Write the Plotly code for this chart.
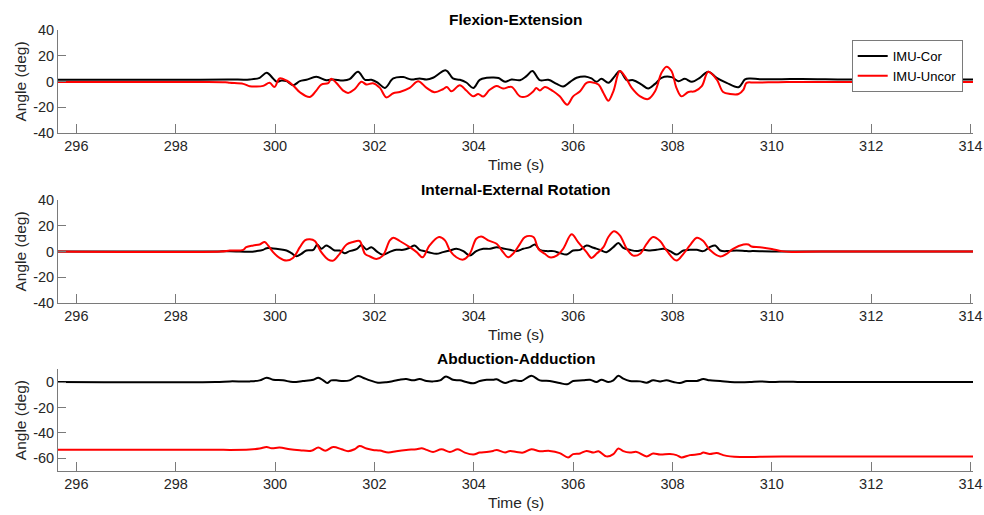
import plotly.graph_objects as go

# ---------------- data ----------------
# Panel 1: Flexion-Extension
fe_cor_t = [295.63, 297.0, 298.5, 299.09, 299.49, 299.69, 299.83, 299.96, 300.03, 300.13, 300.23, 300.36,
            300.50, 300.63, 300.83, 301.03, 301.17, 301.37, 301.50, 301.67, 301.81, 301.94, 302.07, 302.21,
            302.38, 302.58, 302.74, 302.91, 303.05, 303.18, 303.44, 303.58, 303.72, 303.85, 303.99, 304.12,
            304.26, 304.39, 304.50, 304.63, 304.76, 304.93, 305.06, 305.18, 305.33, 305.50, 305.67, 305.80,
            305.94, 306.07, 306.24, 306.37, 306.47, 306.57, 306.71, 306.84, 306.94, 307.08, 307.21, 307.38,
            307.51, 307.65, 307.78, 307.98, 308.12, 308.25, 308.39, 308.55, 308.72, 308.89, 309.09, 309.33,
            309.46, 309.56, 309.76, 310.2, 310.6, 311.5, 312.5, 314.06]
fe_cor_v = [1.3, 1.3, 1.3, 1.58, 1.58, 2.89, 6.84, 2.37, -0.26, 0.79, 0.26, -2.89,
            0.26, 1.32, 3.68, 1.05, 1.58, 0.79, 1.84, 7.63, 1.32, 1.32, -1.05, -5.0,
            2.37, 3.42, 1.58, 2.37, 1.58, 2.89, 8.68, 2.37, 1.32, -0.79, -5.0, 1.32,
            2.89, 3.2, 2.7, -0.26, 1.58, 1.05, 4.21, 8.15, 1.05, 1.32, -1.84, -3.95,
            -0.26, 2.89, 3.95, 2.37, -0.26, 2.10, -1.05, 4.21, 8.15, 1.05, 1.05, -2.37,
            -5.52, -1.84, 2.89, 3.42, 0.26, 2.10, -0.26, 2.89, 7.63, 2.89, -1.05, -4.47,
            1.58, 2.37, 1.84, 1.8, 2.0, 1.6, 1.5, 1.5]

fe_unc_t = [295.63, 298.5, 299.0, 299.09, 299.36, 299.49, 299.62, 299.76, 299.89, 299.99, 300.09, 300.23,
            300.36, 300.50, 300.70, 300.83, 300.93, 301.07, 301.13, 301.23, 301.37, 301.47, 301.60, 301.74,
            301.84, 301.97, 302.11, 302.24, 302.38, 302.51, 302.71, 302.88, 303.05, 303.21, 303.38, 303.46,
            303.55, 303.72, 303.85, 303.99, 304.09, 304.19, 304.32, 304.46, 304.59, 304.76, 304.93, 305.06,
            305.20, 305.26, 305.33, 305.43, 305.60, 305.73, 305.88, 306.00, 306.14, 306.27, 306.37, 306.51,
            306.61, 306.71, 306.81, 306.94, 307.04, 307.18, 307.35, 307.51, 307.65, 307.78, 307.88, 307.98,
            308.08, 308.18, 308.32, 308.45, 308.59, 308.72, 308.89, 309.02, 309.16, 309.33, 309.43, 309.49,
            309.63, 309.76, 310.3, 314.06]
fe_unc_v = [-0.3, -0.3, -0.6, -1.05, -1.84, -3.68, -3.95, -3.42, -1.05, -4.21, 2.37, 0.79,
            -2.89, -8.42, -12.1, -7.1, -2.37, -1.32, 2.10, -1.05, -7.1, -8.94, -6.05, -0.26,
            -2.37, -1.32, -5.0, -12.4, -9.2, -8.15, -5.0, 0.26, -5.0, -8.42, -6.05, -4.21,
            -7.63, -2.89, -7.1, -11.6, -9.7, -11.8, -6.5, -3.5, -5.52, -4.21, -11.6, -11.6,
            -7.63, -5.0, -7.1, -4.21, -7.63, -11.6, -18.1, -11.6, -7.63, -1.05, -0.53, -2.37,
            -8.94, -15.0, -7.63, 8.15, 4.21, -5.0, -11.6, -13.7, -7.63, 6.84, 11.6, 8.15,
            -5.0, -11.6, -8.15, -7.63, -3.68, 7.63, 1.58, -8.15, -9.73, -9.73, -6.3, -1.05,
            -0.79, -0.79, -0.3, -0.3]

# Panel 2: Internal-External Rotation
ie_cor_t = [295.63, 298.8, 299.09, 299.49, 299.62, 299.76, 299.83, 299.96, 300.09, 300.23, 300.33, 300.43,
            300.53, 300.63, 300.77, 300.85, 300.93, 301.03, 301.10, 301.20, 301.30, 301.40, 301.50, 301.64,
            301.74, 301.84, 301.94, 302.04, 302.17, 302.31, 302.44, 302.58, 302.71, 302.81, 302.91, 303.01,
            303.11, 303.25, 303.38, 303.52, 303.65, 303.79, 303.92, 304.05, 304.19, 304.33, 304.46, 304.59,
            304.73, 304.86, 304.995, 305.13, 305.23, 305.33, 305.47, 305.60, 305.73, 305.87, 306.00, 306.14,
            306.27, 306.41, 306.54, 306.67, 306.81, 306.91, 307.01, 307.14, 307.28, 307.41, 307.55, 307.68,
            307.82, 307.95, 308.08, 308.22, 308.35, 308.49, 308.62, 308.75, 308.86, 308.96, 309.09, 309.29,
            309.49, 309.63, 310.0, 314.06]
ie_cor_v = [0.0, 0.0, 0.26, -0.26, 0.26, 1.3, 2.6, 2.4, 1.8, 0.8, -1.3, -3.7,
            -1.8, 0.8, 1.3, 5.5, 2.1, 4.7, 3.4, 0.8, 0.8, -1.3, 0.3, 1.8,
            5.0, 1.6, 3.4, 0.3, -2.6, -0.3, 1.3, 1.3, 2.9, 4.7, 1.3, 0.3,
            -0.8, -1.8, -0.5, 0.8, 2.1, 0.3, -3.2, 0.3, 2.1, 2.1, 3.4, 2.4,
            1.3, 0.3, 2.1, 3.4, 5.5, 1.3, 0.3, 0.3, -1.1, -2.4, 0.8, 1.3,
            4.7, 2.9, 1.3, -0.5, 3.4, 6.6, 2.9, 1.3, 0.3, 1.3, 0.8, 1.3,
            2.1, 0.3, -2.4, 0.8, 1.3, 1.3, 0.3, 3.4, 4.7, 0.8, 0.3, 0.8,
            0.3, 0.3, 0.0, 0.0]

ie_unc_t = [295.63, 298.9, 299.09, 299.36, 299.42, 299.56, 299.69, 299.79, 299.86, 299.96, 300.09, 300.23,
            300.36, 300.50, 300.60, 300.70, 300.80, 300.93, 301.07, 301.17, 301.30, 301.44, 301.57, 301.70,
            301.81, 301.91, 302.04, 302.17, 302.31, 302.38, 302.51, 302.71, 302.85, 302.97, 303.11, 303.30,
            303.42, 303.52, 303.65, 303.79, 303.92, 304.05, 304.15, 304.29, 304.46, 304.59, 304.69, 304.79,
            304.93, 305.03, 305.20, 305.30, 305.43, 305.53, 305.67, 305.80, 305.97, 306.10, 306.27, 306.37,
            306.47, 306.61, 306.71, 306.82, 306.94, 307.08, 307.21, 307.35, 307.48, 307.61, 307.75, 307.88,
            308.08, 308.22, 308.35, 308.49, 308.62, 308.75, 308.96, 309.09, 309.22, 309.43, 309.53, 309.59,
            309.76, 310.0, 310.2, 310.4, 311.0, 314.06]
ie_unc_v = [0.0, 0.0, 0.8, 1.3, 3.4, 4.7, 5.5, 7.4, 4.7, -0.5, -5.0, -7.1,
            -5.0, 3.4, 8.7, 9.5, 8.2, -0.5, -6.3, -7.1, -1.8, 5.5, 7.4, 8.2,
            -1.8, -3.9, -5.8, -3.2, 8.7, 10.8, 8.2, 3.4, -0.5, -4.5, 4.7, 11.3,
            8.7, 0.8, -4.5, -6.3, -1.8, 10.0, 11.8, 8.7, 6.0, -0.5, -4.5, -1.8,
            6.0, 11.3, 11.3, 2.1, -1.8, -4.5, -3.2, 2.1, 13.4, 7.4, -0.5, -5.0,
            -1.8, 3.4, 11.3, 15.8, 12.6, 2.1, -3.2, -1.8, 6.0, 11.3, 8.2, 0.8,
            -7.1, -1.8, 4.7, 10.8, 8.2, 1.3, -3.9, -1.8, 2.1, 5.5, 5.5, 3.9,
            3.4, 2.0, 0.3, -0.3, 0.0, 0.0]

# Panel 3: Abduction-Adduction
aa_cor_t = [295.63, 298.8, 299.09, 299.49, 299.69, 299.83, 299.96, 300.16, 300.36, 300.56, 300.77, 300.87,
            300.97, 301.05, 301.13, 301.23, 301.37, 301.50, 301.67, 301.77, 301.91, 302.07, 302.24, 302.38,
            302.51, 302.64, 302.78, 302.91, 303.05, 303.18, 303.32, 303.44, 303.58, 303.72, 303.85, 303.99,
            304.12, 304.26, 304.39, 304.46, 304.63, 304.73, 304.83, 304.96, 305.16, 305.33, 305.53, 305.73,
            305.88, 306.00, 306.20, 306.34, 306.47, 306.57, 306.71, 306.81, 306.91, 307.01, 307.14, 307.35,
            307.48, 307.61, 307.75, 307.88, 308.02, 308.15, 308.29, 308.49, 308.62, 308.75, 308.96, 309.16,
            309.36, 309.56, 309.76, 310.0, 310.3, 310.6, 314.06]
aa_cor_v = [0.0, 0.0, 0.5, 0.5, 1.3, 3.4, 1.8, 1.3, 0.0, 0.8, 1.8, 3.4,
            1.3, -0.8, 1.3, 1.3, 0.8, 1.3, 4.7, 3.4, 1.3, -0.5, -0.2, 0.8,
            1.8, 2.3, 1.3, 2.3, 0.8, 0.5, 1.3, 4.4, 1.8, 1.3, 0.0, -1.0,
            0.8, 1.8, 1.8, 2.1, -0.8, 0.5, 1.3, 0.8, 4.9, 1.3, 0.8, -0.8,
            -1.8, 0.8, 1.3, 1.8, 0.0, 1.8, 0.0, 1.3, 4.9, 2.6, 0.8, 0.5,
            -0.5, 1.3, 0.5, 1.3, 0.0, -0.8, 0.8, 0.8, 2.3, 1.3, 0.8, 0.0,
            -0.2, 0.0, 0.5, 0.0, 0.3, 0.0, 0.0]

aa_unc_t = [295.63, 298.8, 299.09, 299.49, 299.69, 299.83, 299.93, 300.09, 300.30, 300.50, 300.73, 300.87,
            301.01, 301.17, 301.34, 301.47, 301.60, 301.70, 301.84, 301.97, 302.11, 302.28, 302.44, 302.64,
            302.85, 302.95, 303.05, 303.18, 303.35, 303.52, 303.68, 303.82, 303.99, 304.12, 304.26, 304.39,
            304.46, 304.63, 304.73, 304.86, 304.995, 305.16, 305.33, 305.53, 305.73, 305.90, 306.00, 306.14,
            306.27, 306.41, 306.51, 306.67, 306.81, 306.91, 307.01, 307.14, 307.28, 307.48, 307.61, 307.75,
            307.95, 308.08, 308.18, 308.35, 308.55, 308.62, 308.75, 308.89, 309.02, 309.16, 309.36, 309.56,
            309.76, 310.2, 311.0, 314.06]
aa_unc_v = [-53.2, -53.2, -53.4, -53.1, -52.3, -51.1, -52.1, -51.6, -52.9, -53.6, -54.1, -51.6,
            -54.1, -51.1, -52.9, -54.4, -52.9, -50.3, -52.3, -53.4, -53.9, -55.5, -54.4, -53.4,
            -52.9, -52.1, -53.4, -55.0, -52.9, -55.0, -52.9, -55.5, -57.0, -55.5, -55.0, -54.2,
            -53.4, -55.5, -54.2, -55.0, -55.5, -52.9, -54.4, -54.2, -55.9, -59.3, -56.7, -56.2,
            -54.2, -55.5, -54.4, -58.5, -56.7, -52.3, -54.4, -55.5, -55.0, -58.5, -56.2, -57.0,
            -56.7, -57.5, -59.3, -57.5, -56.7, -55.5, -56.7, -55.9, -57.5, -58.5, -59.0, -59.0,
            -58.8, -58.6, -58.5, -58.5]

panel_titles = ["Flexion-Extension", "Internal-External Rotation", "Abduction-Adduction"]
series_names = ["IMU-Cor", "IMU-Uncor"]
x_ticks = [296, 298, 300, 302, 304, 306, 308, 310, 312, 314]
x_tick_labels = ["296", "298", "300", "302", "304", "306", "308", "310", "312", "314"]
y_ticks_a = [-40, -20, 0, 20, 40]
y_tick_labels_a = ["-40", "-20", "0", "20", "40"]
y_ticks_b = [-60, -40, -20, 0]
y_tick_labels_b = ["-60", "-40", "-20", "0"]

# ---------------- layout geometry (pixels) ----------------
W, H = 984, 515
ML, MR, MT, MB = 58, 11, 30, 44
PH = H - MT - MB
panels_px = [(30.3, 132.7), (200.3, 302.7), (369.3, 471.0)]  # top, bottom


def py2paper(py):
    return (H - MB - py) / PH


def px2paper(px):
    return (px - ML) / (W - ML - MR)


FONT = "Liberation Sans, Arial, sans-serif"
TXT_COL = "#262626"
LINE_COL = "#7a7a7a"

fig = go.Figure()
data = [(fe_cor_t, fe_cor_v, fe_unc_t, fe_unc_v),
        (ie_cor_t, ie_cor_v, ie_unc_t, ie_unc_v),
        (aa_cor_t, aa_cor_v, aa_unc_t, aa_unc_v)]

annotations = []
for i, (tc, vc, tu, vu) in enumerate(data):
    sfx = "" if i == 0 else str(i + 1)
    fig.add_trace(go.Scatter(x=tc, y=vc, xaxis="x" + sfx, yaxis="y" + sfx, mode="lines",
                             name=series_names[0], showlegend=(i == 0),
                             line=dict(color="#000000", width=2, shape="spline", smoothing=1.0)))
    fig.add_trace(go.Scatter(x=tu, y=vu, xaxis="x" + sfx, yaxis="y" + sfx, mode="lines",
                             name=series_names[1], showlegend=(i == 0),
                             line=dict(color="#ff0000", width=2, shape="spline", smoothing=1.0)))
    top, bot = panels_px[i]
    dom = [py2paper(bot), py2paper(top)]
    if i < 2:
        yt, ytl, yr = y_ticks_a, y_tick_labels_a, [-40, 40]
    else:
        yt, ytl, yr = y_ticks_b, y_tick_labels_b, [-70, 10]
    fig.layout["xaxis" + sfx] = dict(
        domain=[0, 1], anchor="y" + sfx, range=[295.63, 314.05], automargin=False,
        tickvals=x_ticks, ticktext=x_tick_labels, ticks="inside", ticklen=9,
        tickcolor=LINE_COL, tickwidth=1, showline=True, linecolor=LINE_COL, linewidth=1,
        showgrid=False, zeroline=False, tickfont=dict(size=14.5, color=TXT_COL, family=FONT))
    fig.layout["yaxis" + sfx] = dict(
        domain=dom, anchor="x" + sfx, range=yr, automargin=False,
        tickvals=yt, ticktext=ytl, ticks="inside", ticklen=8,
        tickcolor=LINE_COL, tickwidth=1, showline=True, linecolor=LINE_COL, linewidth=1,
        showgrid=False, zeroline=False, tickfont=dict(size=14.5, color=TXT_COL, family=FONT))
    annotations.append(dict(text="<b>" + panel_titles[i] + "</b>", xref="paper", yref="paper",
                            x=0.5, y=py2paper(top - 11), xanchor="center", yanchor="middle",
                            showarrow=False, font=dict(size=15.5, color="#000000", family=FONT)))
    annotations.append(dict(text="Time (s)", xref="paper", yref="paper",
                            x=0.5, y=py2paper(bot + 32), xanchor="center", yanchor="middle",
                            showarrow=False, font=dict(size=15.5, color=TXT_COL, family=FONT)))
    annotations.append(dict(text="Angle (deg)", xref="paper", yref="paper", textangle=-90,
                            x=px2paper(20), y=py2paper((top + bot) / 2), xanchor="center",
                            yanchor="middle", showarrow=False,
                            font=dict(size=15.5, color=TXT_COL, family=FONT)))

fig.update_layout(
    width=W, height=H, margin=dict(l=ML, r=MR, t=MT, b=MB, autoexpand=False),
    paper_bgcolor="white", plot_bgcolor="white",
    font=dict(family=FONT, color=TXT_COL),
    annotations=annotations,
    legend=dict(x=px2paper(962.7), y=py2paper(40), xanchor="right", yanchor="top",
                bgcolor="white", bordercolor=LINE_COL, borderwidth=1, itemwidth=30,
                font=dict(size=13, color="#000000", family=FONT), tracegroupgap=0),
)

fig.write_html("out.html")
